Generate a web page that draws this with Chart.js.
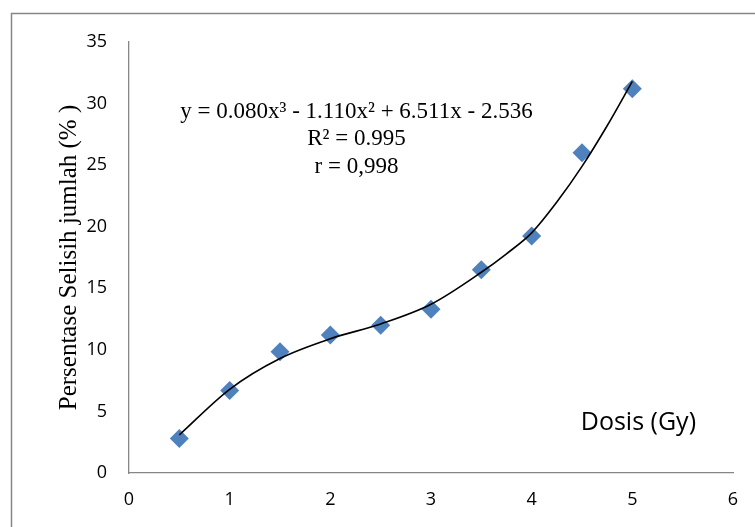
<!DOCTYPE html>
<html>
<head>
<meta charset="utf-8">
<script src="https://cdn.jsdelivr.net/npm/chart.js@4/dist/chart.umd.min.js"></script>
<style>
  html, body { margin: 0; padding: 0; background: #fff; }
  #wrap { width: 755px; height: 527px; }
</style>
</head>
<body>
<div id="wrap"><canvas id="chart-area" width="755" height="527"></canvas></div>
<script>
// dose (Gy) and measured difference (%)
var dosis = [0.5, 1, 1.5, 2, 2.5, 3, 3.5, 4, 4.5, 5];
var persentase = [2.8, 6.7, 9.85, 11.2, 12.0, 13.3, 16.5, 19.25, 26.0, 31.2];
// trend line
var trendDosis = [0.5, 1, 1.5, 2, 2.5, 3, 3.5, 3.75, 4, 4.25, 4.5, 4.75, 5];
var trendNilai = [3.1, 6.8, 9.3, 10.9, 12.1, 13.7, 16.3, 17.8, 19.5, 22.0, 24.9, 28.2, 31.8];

var teksPersamaan = ['y = 0.080x\u00b3 - 1.110x\u00b2 + 6.511x - 2.536', 'R\u00b2 = 0.995', 'r = 0,998'];
var judulY = 'Persentase Selisih jumlah (% )';
var judulX = 'Dosis (Gy)';

var abu = '#868686';

var bingkai = {
    id: 'bingkai',
    beforeDraw: function(chart) {
        var c = chart.ctx;
        c.save();
        c.fillStyle = '#fff';
        c.fillRect(0, 0, chart.width, chart.height);
        c.strokeStyle = abu;
        c.lineWidth = 1.5;
        c.strokeRect(11.5, 13.5, 900, 700);
        c.restore();
    },
    afterDraw: function(chart) {
        var c = chart.ctx, sx = chart.scales.x, sy = chart.scales.y;
        c.save();
        c.fillStyle = '#000';
        c.textAlign = 'center';
        c.textBaseline = 'middle';
        c.font = '23px "Liberation Serif"';
        var yv = [29.3, 27.1, 24.85];
        for (var i = 0; i < teksPersamaan.length; i++) {
            c.fillText(teksPersamaan[i], sx.getPixelForValue(2.26), sy.getPixelForValue(yv[i]));
        }
        c.font = '25px "Open Sans"';
        c.fillText(judulX, sx.getPixelForValue(5.06), sy.getPixelForValue(4.06));
        c.restore();
    }
};

var ctx = document.getElementById('chart-area').getContext('2d');
var config = {
    type: 'scatter',
    data: {
        datasets: [{
            label: 'trend',
            data: trendDosis.map(function(d, i) { return { x: d, y: trendNilai[i] }; }),
            showLine: true,
            borderColor: '#000',
            borderWidth: 1.6,
            pointRadius: 0,
            cubicInterpolationMode: 'monotone',
            fill: false
        }, {
            label: 'data',
            data: dosis.map(function(d, i) { return { x: d, y: persentase[i] }; }),
            pointStyle: 'rectRot',
            pointRadius: 9.5,
            pointBackgroundColor: '#4F81BD',
            pointBorderWidth: 0,
            backgroundColor: '#4F81BD',
            borderColor: '#4F81BD'
        }]
    },
    options: {
        responsive: false,
        animation: false,
        layout: { padding: { top: 42, right: 22, left: 0, bottom: 0 } },
        plugins: { legend: { display: false }, tooltip: { enabled: false } },
        scales: {
            x: {
                type: 'linear', min: 0, max: 6,
                grid: { display: false, drawTicks: false },
                border: { color: abu, width: 1.3 },
                ticks: { stepSize: 1, padding: 16, color: '#000', font: { family: 'Open Sans', size: 18 } },
                afterFit: function(s) { s.height = 54; }
            },
            y: {
                type: 'linear', min: 0, max: 35,
                grid: { display: false, drawTicks: false },
                border: { color: abu, width: 1.3 },
                ticks: { stepSize: 5, padding: 22, color: '#000', font: { family: 'Open Sans', size: 18 } },
                title: { display: true, text: judulY, color: '#000', padding: { top: 54, bottom: 0 }, font: { family: 'Liberation Serif', size: 25 } },
                afterFit: function(s) { s.width = 129; }
            }
        }
    },
    plugins: [bingkai]
};
window.myChart = new Chart(ctx, config);
</script>
</body>
</html>
